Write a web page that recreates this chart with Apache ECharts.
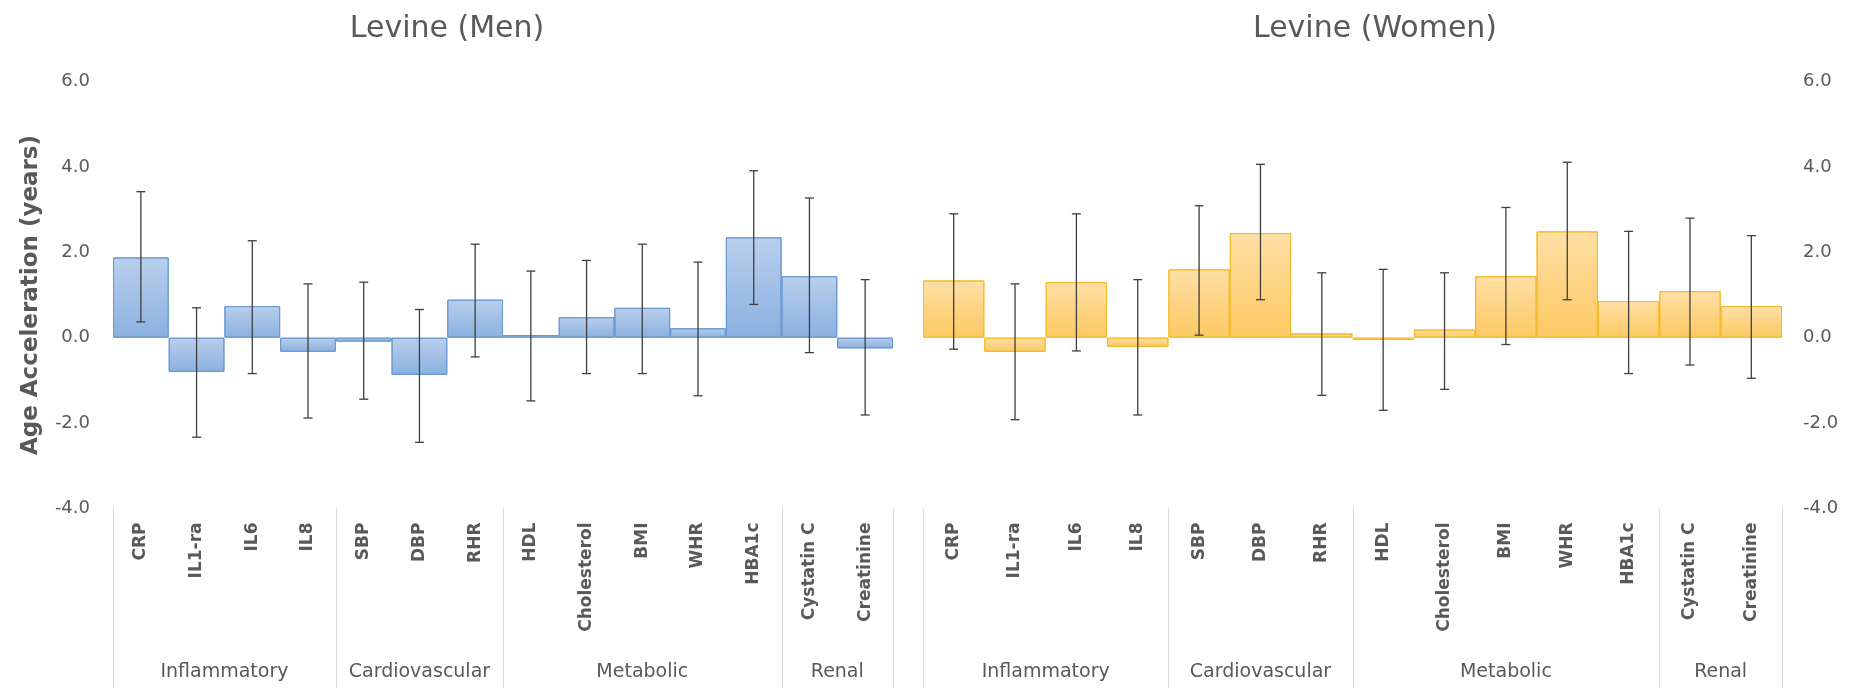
<!DOCTYPE html>
<html>
<head>
<meta charset="utf-8">
<script src="https://cdn.jsdelivr.net/npm/echarts@6/dist/echarts.min.js"></script>
<style>
  html, body { margin: 0; padding: 0; background: #ffffff; }
  #chart { width: 1863px; height: 688px; }
</style>
</head>
<body>
<div id="chart"></div>
<script>
// ---------- data ----------
const categories = ['CRP', 'IL1-ra', 'IL6', 'IL8', 'SBP', 'DBP', 'RHR', 'HDL', 'Cholesterol', 'BMI', 'WHR', 'HBA1c', 'Cystatin C', 'Creatinine'];
const groupNames = ['Inflammatory', 'Cardiovascular', 'Metabolic', 'Renal'];
const groupSizes = [4, 3, 5, 2];
const chartTitles = ['Levine (Men)', 'Levine (Women)'];
const yAxisTitle = 'Age Acceleration (years)';
const yMin = -4, yMax = 6, yStep = 2;

const menValues = [1.88, -0.80, 0.74, -0.33, -0.09, -0.87, 0.89, 0.06, 0.48, 0.70, 0.22, 2.35, 1.44, -0.25];
const menLow    = [0.37, -2.33, -0.84, -1.88, -1.44, -2.45, -0.45, -1.48, -0.84, -0.84, -1.36, 0.78, -0.35, -1.81];
const menHigh   = [3.42, 0.70, 2.27, 1.26, 1.30, 0.66, 2.19, 1.56, 1.81, 2.19, 1.77, 3.91, 3.27, 1.36];

const womenValues = [1.34, -0.33, 1.30, -0.21, 1.60, 2.45, 0.10, -0.05, 0.19, 1.44, 2.49, 0.86, 1.09, 0.74];
const womenLow    = [-0.27, -1.92, -0.31, -1.81, 0.06, 0.89, -1.35, -1.70, -1.21, -0.16, 0.89, -0.84, -0.64, -0.95];
const womenHigh   = [2.90, 1.26, 2.90, 1.36, 3.09, 4.06, 1.52, 1.60, 1.52, 3.05, 4.11, 2.49, 2.80, 2.39];

// ---------- styling ----------
const textColor = '#595959';
const sepColor = '#d9d9d9';
const errColor = '#3f3f3f';
const grids = [
  { left: 113, right: 970, top: 81.5, bottom: 179.5 },
  { left: 923, right: 81, top: 81.5, bottom: 179.5 }
];
const titleCenters = [447, 1375];

const chart = echarts.init(document.getElementById('chart'), null, { renderer: 'canvas' });

function barFill(top, bottom) {
  return new echarts.graphic.LinearGradient(0, 0, 0, 1, [
    { offset: 0, color: top },
    { offset: 1, color: bottom }
  ]);
}

function errorSeries(idx, low, high) {
  return {
    type: 'custom',
    xAxisIndex: idx,
    yAxisIndex: idx,
    z: 5,
    silent: true,
    data: categories.map((c, i) => [i, low[i], high[i]]),
    renderItem: function (params, api) {
      const x = api.value(0);
      const pLo = api.coord([x, api.value(1)]);
      const pHi = api.coord([x, api.value(2)]);
      const cap = 4.5;
      const style = { stroke: errColor, lineWidth: 1.3 };
      return {
        type: 'group',
        children: [
          { type: 'line', shape: { x1: pLo[0], y1: pLo[1], x2: pHi[0], y2: pHi[1] }, style: style },
          { type: 'line', shape: { x1: pHi[0] - cap, y1: pHi[1], x2: pHi[0] + cap, y2: pHi[1] }, style: style },
          { type: 'line', shape: { x1: pLo[0] - cap, y1: pLo[1], x2: pLo[0] + cap, y2: pLo[1] }, style: style }
        ]
      };
    }
  };
}

const axisLabelFont = { color: textColor, fontFamily: 'DejaVu Sans', fontSize: 18 };

const option = {
  animation: false,
  backgroundColor: '#ffffff',
  grid: grids,
  xAxis: [0, 1].map(i => ({
    type: 'category',
    gridIndex: i,
    data: categories,
    position: 'bottom',
    boundaryGap: true,
    axisLine: { show: false },
    axisTick: { show: false },
    splitLine: { show: false },
    axisLabel: {
      rotate: 90,
      interval: 0,
      margin: 14,
      color: textColor,
      fontFamily: 'DejaVu Sans',
      fontWeight: 'bold',
      fontSize: 17
    }
  })),
  yAxis: [
    {
      type: 'value', gridIndex: 0, min: yMin, max: yMax, interval: yStep, position: 'left',
      axisLine: { show: false }, axisTick: { show: false }, splitLine: { show: false },
      axisLabel: Object.assign({ margin: 23, formatter: v => v.toFixed(1) }, axisLabelFont),
      name: yAxisTitle, nameLocation: 'middle', nameRotate: 90, nameGap: 70,
      nameTextStyle: { color: textColor, fontFamily: 'DejaVu Sans', fontWeight: 'bold', fontSize: 23 }
    },
    {
      type: 'value', gridIndex: 1, min: yMin, max: yMax, interval: yStep, position: 'right',
      axisLine: { show: false }, axisTick: { show: false }, splitLine: { show: false },
      axisLabel: Object.assign({ margin: 21, formatter: v => v.toFixed(1) }, axisLabelFont)
    }
  ],
  series: [
    {
      type: 'bar', xAxisIndex: 0, yAxisIndex: 0, data: menValues,
      barCategoryGap: '0%', barGap: '0%',
      itemStyle: { color: barFill('#bacfec', '#8ab0e0'), borderColor: '#6a98d0', borderWidth: 1 }
    },
    {
      type: 'bar', xAxisIndex: 1, yAxisIndex: 1, data: womenValues,
      barCategoryGap: '0%', barGap: '0%',
      itemStyle: { color: barFill('#fedfa5', '#fdc962'), borderColor: '#f3bb2a', borderWidth: 1 }
    },
    errorSeries(0, menLow, menHigh),
    errorSeries(1, womenLow, womenHigh)
  ]
};

chart.setOption(option);

// ---------- group separators, group labels, titles (positions from the axes) ----------
function boundary(axisIdx, k) {
  const c0 = chart.convertToPixel({ xAxisIndex: axisIdx }, categories[0]);
  const c1 = chart.convertToPixel({ xAxisIndex: axisIdx }, categories[1]);
  const w = c1 - c0;
  return c0 - w / 2 + k * w;
}

const graphics = [];
const axisY = chart.convertToPixel({ yAxisIndex: 0 }, yMin);
[0, 1].forEach(ax => {
  let k = 0;
  const bounds = [0];
  groupSizes.forEach(s => { k += s; bounds.push(k); });
  bounds.forEach(b => {
    const x = Math.round(boundary(ax, b)) + 0.5;
    graphics.push({
      type: 'line', silent: true,
      shape: { x1: x, y1: axisY, x2: x, y2: 688 },
      style: { stroke: sepColor, lineWidth: 1 }
    });
  });
  groupNames.forEach((g, gi) => {
    const xc = (boundary(ax, bounds[gi]) + boundary(ax, bounds[gi + 1])) / 2;
    graphics.push({
      type: 'text', silent: true,
      x: xc, y: 672,
      style: { text: g, fill: textColor, font: '19px "DejaVu Sans"', align: 'center', verticalAlign: 'middle' }
    });
  });
  graphics.push({
    type: 'text', silent: true,
    x: titleCenters[ax], y: 29,
    style: { text: chartTitles[ax], fill: textColor, font: '30px "DejaVu Sans"', align: 'center', verticalAlign: 'middle' }
  });
});

chart.setOption({ graphic: graphics });
</script>
</body>
</html>
